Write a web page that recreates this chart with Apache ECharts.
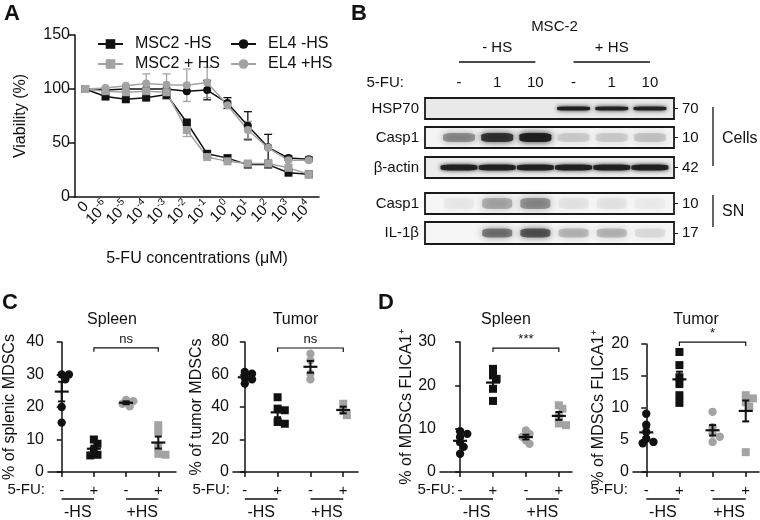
<!DOCTYPE html>
<html><head><meta charset="utf-8">
<script src="https://cdn.jsdelivr.net/npm/echarts@6/dist/echarts.min.js"></script>
<style>html,body{margin:0;padding:0;background:#fff}#c{width:760px;height:520px}</style>
</head><body><div id="c"></div><script>
// ---------- Panel A data ----------
const concLabels = ['0','10^-6','10^-5','10^-4','10^-3','10^-2','10^-1','10^0','10^1','10^2','10^3','10^4'];
const msc2NoHS    = [100,93,90.5,92,95,69,40,36,30,30,22.5,21];
const msc2HS      = [100,98,97,98,97,62,37,33,31,31,27,21];
const el4NoHS     = [100,99,100,100,100,98,99,87,66,46,36,35];
const el4HS       = [100,101,103,105,104,103.5,106,85,62,45.5,34,34];
const msc2NoHSErr = [0,0,0,0,4,2,0,0,0,0,0,0];
const msc2HSErr   = [0,0,0,0,0,6,0,0,0,0,0,0];
const el4NoHSErr  = [0,0,0,0,0,0,9,5,13,12,2,2];
const el4HSErr    = [0,0,0,9,10,15,14,0,8,0,0,0];

// ---------- Panel B data (band intensity 0..1) ----------
const laneLabels = ['-','1','10','-','1','10'];
const blotRows = ['HSP70','Casp1','β-actin','Casp1','IL-1β'];
const blotMW = ['70','10','42','10','17'];
const hsp70Band   = [0,0,0,0.95,0.9,0.9];
const casp1Cells  = [0.35,0.8,0.95,0.12,0.12,0.15];
const actinBand   = [0.9,0.9,0.9,0.9,0.9,0.9];
const casp1SN     = [0.04,0.25,0.35,0.05,0.05,0.03];
const il1bBand    = [0,0.45,0.6,0.2,0.2,0.08];

// ---------- Panels C / D data ----------
const groupLabels = ['-','+','-','+'];
const cSpleen = [[30,30,28.5,20,15.2],[10,8.7,6.7,5.3,5.1],[22.2,21.8,21,20.2],[14.4,12.3,7.7,5.6,5.3]];
const cTumor  = [[61.5,60.5,58,57,54.4],[46,39,38,30.8,29.7],[72.8,68.7,60.5,57],[42,37.5,35]];
const dSpleen = [[9.4,8.8,8.1,6.9,5.8,4.2],[23.8,22.3,21.5,19.2,16.4],[9.6,8.8,8.1,7.3,6.5],[15.4,14.6,12.7,11.2,10.8]];
const dTumor  = [[9.1,7.4,6.25,5.2,4.7,4.5],[18.75,16.7,14.8,13.8,12,10.8],[9.4,7,6,5.5,4.7],[12,11.5,10.9,10.2,3.1]];
const sigLabels = ['ns','ns','***','*'];
const sigLevels = [38.2,76.3,28.6,20.3];

const FONT = '"Liberation Sans", Arial, Helvetica, sans-serif';
const BLACK = '#111111', GRAY = '#a3a3a3';
const chart = echarts.init(document.getElementById('c'));

const blotBg = ['#e9e9e9','#f4f4f4','#ececec','#f6f6f6','#f6f6f6'];
const grids = [
  {left:75, top:35, width:244, height:162},
  {left:425, top:98, width:249, height:21},
  {left:425, top:127, width:249, height:21},
  {left:425, top:157, width:249, height:21},
  {left:425, top:193, width:249, height:21},
  {left:425, top:222, width:249, height:22},
  {left:48, top:342, width:128, height:130},
  {left:233, top:342, width:125, height:130},
  {left:440, top:342, width:132, height:130},
  {left:633, top:344, width:126, height:128}
];
grids.forEach((g,i)=>{ if(i>=1 && i<=5){ g.show=true; g.borderColor='#1a1a1a'; g.borderWidth=1.8; g.backgroundColor=blotBg[i-1]; } });

const axLine = {show:true, lineStyle:{color:BLACK, width:1.5}};
const lbl = (fs)=>({fontSize:fs, color:BLACK, fontFamily:FONT});

const xAxis = [{
  gridIndex:0, type:'category', data:concLabels, boundaryGap:true,
  axisLine:axLine, axisTick:{alignWithLabel:true, length:6, lineStyle:{color:BLACK,width:1.5}},
  axisLabel:Object.assign(lbl(15),{rotate:45, margin:6, interval:0,
    formatter:(v)=>{ const p = v.split('^'); return p.length>1 ? '{b|'+p[0]+'}{s|'+p[1]+'}' : '{b|'+p[0]+'}'; },
    rich:{b:{fontSize:15, lineHeight:18, verticalAlign:'bottom', fontFamily:FONT, color:BLACK},
          s:{fontSize:10, lineHeight:11, verticalAlign:'top', fontFamily:FONT, color:BLACK}}}),
  name:'5-FU concentrations (μM)', nameLocation:'middle', nameGap:54, nameTextStyle:lbl(16)
}];
const yAxis = [{
  gridIndex:0, type:'value', min:0, max:150, interval:50,
  axisLine:axLine, axisTick:{show:true, length:6, lineStyle:{color:BLACK,width:1.5}},
  axisLabel:Object.assign(lbl(16),{margin:5}), splitLine:{show:false},
  name:'Viability (%)', nameLocation:'middle', nameGap:46, nameTextStyle:lbl(16)
}];
const laneIdx = laneLabels.map((_,i)=>i);
blotRows.forEach((row,r)=>{
  xAxis.push({gridIndex:1+r, type:'value', min:-0.89, max:5.63, show:r===0, position:'top',
    axisLine:{show:false}, axisTick:{show:false}, splitLine:{show:false},
    axisLabel:Object.assign(lbl(15),{customValues:laneIdx, formatter:(v)=>laneLabels[Math.round(v)], margin:8})});
  yAxis.push({gridIndex:1+r, type:'value', min:0, max:1, position:'left',
    axisLine:{show:false}, axisTick:{show:false}, splitLine:{show:false},
    axisLabel:Object.assign(lbl(15),{customValues:[0.5], formatter:()=>row, margin:6})});
  yAxis.push({gridIndex:1+r, type:'value', min:0, max:1, position:'right',
    axisLine:{show:false}, splitLine:{show:false},
    axisTick:{show:true, customValues:[0.5], length:4, lineStyle:{color:BLACK,width:1}},
    axisLabel:Object.assign(lbl(15),{customValues:[0.5], formatter:()=>blotMW[r], margin:8})});
});
const cdDefs = [
  {data:cSpleen, max:40, interval:10, name:'% of splenic MDSCs', gap:30, xmin:-0.425, xmax:3.55},
  {data:cTumor, max:80, interval:20, name:'% of tumor MDSCs', gap:28, xmin:-0.36, xmax:3.45},
  {data:dSpleen, max:30, interval:10, name:'% of MDSCs FLICA1⁺', gap:21, xmin:-0.61, xmax:3.4},
  {data:dTumor, max:20, interval:5, name:'% of MDSCs FLICA1⁺', gap:26, xmin:-0.4, xmax:3.4}
];
const groupIdx = groupLabels.map((_,i)=>i);
cdDefs.forEach((d,k)=>{
  xAxis.push({gridIndex:6+k, type:'value', min:d.xmin, max:d.xmax, splitLine:{show:false},
    axisLine:axLine, axisTick:{show:true, customValues:groupIdx, length:5, lineStyle:{color:BLACK,width:1.5}},
    axisLabel:Object.assign(lbl(15),{customValues:groupIdx, formatter:(v)=>groupLabels[Math.round(v)], margin:11})});
  yAxis.push({gridIndex:6+k, type:'value', min:0, max:d.max, interval:d.interval,
    axisLine:axLine, axisTick:{show:true, length:5, lineStyle:{color:BLACK,width:1.5}},
    axisLabel:Object.assign(lbl(16),{margin:4}), splitLine:{show:false},
    name:d.name, nameLocation:'middle', nameGap:d.gap, nameTextStyle:lbl(16)});
});

const series = [];
function lineSeries(name, data, color, symbol){
  return {type:'line', name, data, xAxisIndex:0, yAxisIndex:0, symbol, symbolSize:8,
    color, lineStyle:{color, width:1.5}, itemStyle:{color}, z:3, silent:true};
}
function errSeries(vals, err, color){
  return {type:'custom', xAxisIndex:0, yAxisIndex:0, z:2, silent:true,
    data: vals.map((v,i)=>[i,v,err[i]]), encode:{x:0,y:1},
    renderItem(params, api){
      const e = api.value(2), x = api.value(0), v = api.value(1);
      if(!e) return {type:'group', children:[]};
      const t = api.coord([x, v+e]), b = api.coord([x, v-e]), hw = 4;
      const st = {stroke:color, lineWidth:1.3};
      return {type:'group', children:[
        {type:'line', shape:{x1:t[0],y1:t[1],x2:b[0],y2:b[1]}, style:st},
        {type:'line', shape:{x1:t[0]-hw,y1:t[1],x2:t[0]+hw,y2:t[1]}, style:st},
        {type:'line', shape:{x1:b[0]-hw,y1:b[1],x2:b[0]+hw,y2:b[1]}, style:st}]};
    }};
}
series.push(errSeries(msc2NoHS, msc2NoHSErr, BLACK), errSeries(el4NoHS, el4NoHSErr, BLACK),
            errSeries(msc2HS, msc2HSErr, GRAY), errSeries(el4HS, el4HSErr, GRAY));
series.push(lineSeries('MSC2 -HS', msc2NoHS, BLACK, 'rect'), lineSeries('EL4 -HS', el4NoHS, BLACK, 'circle'),
            lineSeries('MSC2 + HS', msc2HS, GRAY, 'rect'), lineSeries('EL4 +HS', el4HS, GRAY, 'circle'));

// blot bands
const bands = [hsp70Band, casp1Cells, actinBand, casp1SN, il1bBand];
const bandSize = [[33,4],[32,9],[37,6],[30,11],[30,9]];
const bandBlur = [4,7,4,8,7];
bands.forEach((arr,r)=>{
  series.push({type:'scatter', xAxisIndex:1+r, yAxisIndex:1+2*r, symbol:'roundRect', symbolSize:bandSize[r], silent:true,
    data:arr.map((a,i)=>({value:[i,0.5], itemStyle:{opacity:a}})),
    itemStyle:{color:'#1a1a1a', shadowBlur:bandBlur[r], shadowColor:'#1a1a1a'}});
});

// dot plots
function swarm(ys, size){
  const order = ys.map((y,i)=>i).sort((a,b)=>ys[a]-ys[b]);
  const placed = [], off = new Array(ys.length).fill(0);
  const cands = [0,0.45,-0.45,0.9,-0.9,1.3,-1.3].map(c=>c*size);
  order.forEach(i=>{
    for(const c of cands){
      if(placed.every(p=>Math.hypot(p[0]-c, p[1]-ys[i]) >= size*0.62)){ off[i]=c; placed.push([c, ys[i]]); return; }
    }
    placed.push([0,ys[i]]);
  });
  return off;
}
cdDefs.forEach((d,k)=>{
  const groups = d.data;
  series.push({type:'custom', xAxisIndex:6+k, yAxisIndex:11+k, silent:true, z:3,
    data: groups.map((vals,g)=>[g, vals.reduce((s,v)=>s+v,0)/vals.length]), encode:{x:0,y:1},
    renderItem(params, api){
      const g = params.dataIndex, vals = groups[g];
      const color = g < 2 ? BLACK : GRAY, square = g % 2 === 1;
      const n = vals.length, mean = vals.reduce((s,v)=>s+v,0)/n;
      const sem = Math.sqrt(vals.reduce((s,v)=>s+(v-mean)*(v-mean),0)/(n-1)/n);
      const cx = api.coord([g, 0])[0];
      const ys = vals.map(v=>api.coord([g, v])[1]);
      const off = swarm(ys, 8);
      const ch = ys.map((y,i)=> square
        ? {type:'rect', shape:{x:cx+off[i]-4, y:y-4, width:8, height:8}, style:{fill:color}}
        : {type:'circle', shape:{cx:cx+off[i], cy:y, r:4.2}, style:{fill:color}});
      const m = api.coord([g, mean])[1], t = api.coord([g, mean+sem])[1], b = api.coord([g, mean-sem])[1];
      const st = {stroke:BLACK, lineWidth:2};
      ch.push({type:'line', shape:{x1:cx-7,y1:m,x2:cx+7,y2:m}, style:{stroke:BLACK, lineWidth:2.2}});
      ch.push({type:'line', shape:{x1:cx,y1:t,x2:cx,y2:b}, style:st});
      ch.push({type:'line', shape:{x1:cx-3.5,y1:t,x2:cx+3.5,y2:t}, style:st});
      ch.push({type:'line', shape:{x1:cx-3.5,y1:b,x2:cx+3.5,y2:b}, style:st});
      return {type:'group', children:ch};
    }});
  series.push({type:'custom', xAxisIndex:6+k, yAxisIndex:11+k, silent:true, clip:false,
    data:[[1,3,sigLevels[k]]], encode:{x:[0,1], y:2},
    renderItem(params, api){
      const p1 = api.coord([api.value(0), api.value(2)]), p2 = api.coord([api.value(1), api.value(2)]);
      return {type:'group', children:[
        {type:'polyline', shape:{points:[[p1[0],p1[1]+4],[p1[0],p1[1]],[p2[0],p2[1]],[p2[0],p2[1]+4]]}, style:{stroke:BLACK, lineWidth:1.2, fill:null}},
        {type:'text', style:{text:sigLabels[k], x:(p1[0]+p2[0])/2, y:p1[1]-2, textAlign:'center', textVerticalAlign:'bottom', align:'center', verticalAlign:'bottom', font:'13px '+FONT, fill:BLACK}}]};
    }});
});

const legendBase = {orient:'vertical', itemWidth:25, itemHeight:12, itemGap:4, padding:0,
  textStyle:Object.assign(lbl(16),{padding:[0,0,0,7]})};
chart.setOption({
  animation:false,
  grid:grids, xAxis, yAxis, series,
  legend:[Object.assign({left:97, top:36, data:['MSC2 -HS','MSC2 + HS']}, legendBase),
          Object.assign({left:230, top:36, data:['EL4 -HS','EL4 +HS']}, legendBase)]
});

// ---------- annotations ----------
function T(text, x, y, fs, align, extra){
  return {type:'text', silent:true, style:Object.assign({text, x, y, font:(extra&&extra.bold?'bold ':'')+fs+'px '+FONT, fill:BLACK,
    textAlign:align||'center', align:align||'center', textVerticalAlign:'middle', verticalAlign:'middle'})};
}
function L(x1,y1,x2,y2,w){ return {type:'line', silent:true, shape:{x1,y1,x2,y2}, style:{stroke:BLACK, lineWidth:w||1.3}}; }
const G = [];
G.push(T('A',12,14,22,'center',{bold:true}), T('B',359,14,22,'center',{bold:true}),
       T('C',10,303,22,'center',{bold:true}), T('D',386,303,22,'center',{bold:true}));
// Panel B headers
const lanePx = laneIdx.map(i=>chart.convertToPixel({xAxisIndex:1, yAxisIndex:1},[i,0.5])[0]);
G.push(T('MSC-2', (lanePx[0]+lanePx[5])/2, 27, 15));
G.push(T('- HS', (lanePx[0]+lanePx[2])/2, 48, 15), T('+ HS', (lanePx[3]+lanePx[5])/2, 48, 15));
G.push(L(lanePx[0], 62, lanePx[2], 62, 1.3), L(lanePx[3], 62, lanePx[5], 62, 1.3));
G.push(T('5-FU:', 404, 83, 15, 'right'));
G.push(L(713,107,713,166,1.3), T('Cells',722,139,16,'left'), L(713,195,713,227,1.3), T('SN',722,212,16,'left'));
// Panels C / D
const fuRight = [45, 230, 455, 628];
cdDefs.forEach((d,k)=>{
  const gi = 6+k;
  const t = groupIdx.map(c=>chart.convertToPixel({xAxisIndex:gi, yAxisIndex:5+gi},[c,0])[0]);
  const gr = grids[gi];
  G.push(T(k%2===0?'Spleen':'Tumor', gr.left+gr.width/2, 320, 16));
  G.push(T('5-FU:', fuRight[k], 490, 15, 'right'));
  G.push(L(t[0],499,t[1],499,1.3), L(t[2],499,t[3],499,1.3));
  G.push(T('-HS',(t[0]+t[1])/2,513,16), T('+HS',(t[2]+t[3])/2,513,16));
});
chart.setOption({graphic:G});
</script></body></html>
